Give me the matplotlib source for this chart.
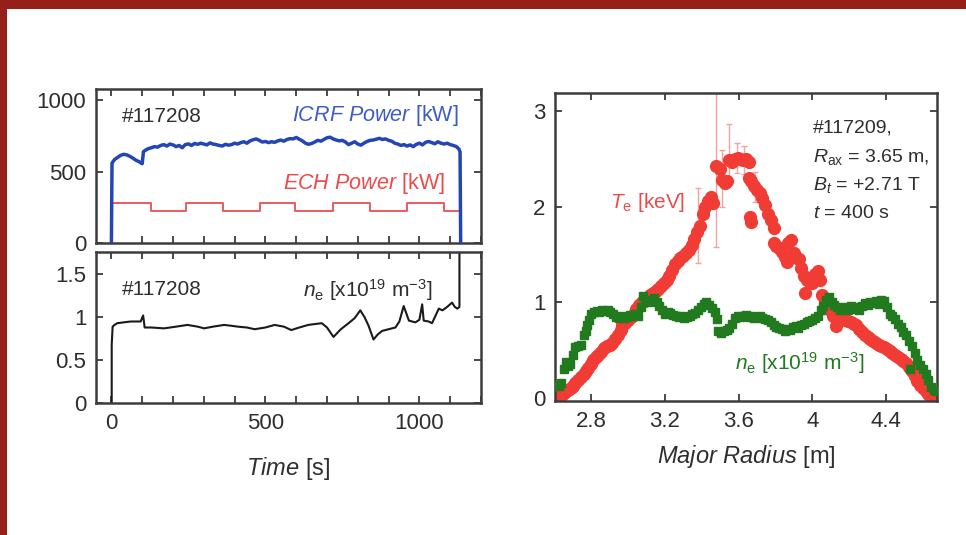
import matplotlib
matplotlib.use("Agg")
import matplotlib.pyplot as plt
from matplotlib.patches import Rectangle
from matplotlib.ticker import MultipleLocator

plt.rcParams['font.family'] = ['Liberation Sans', 'DejaVu Sans']
plt.rcParams['mathtext.fontset'] = 'custom'
plt.rcParams['mathtext.rm'] = 'Liberation Sans'
plt.rcParams['mathtext.it'] = 'Liberation Sans:italic'
plt.rcParams['mathtext.bf'] = 'Liberation Sans:bold'

# ---------------- data: left panels (time traces, shot #117208) ----------------
icrf_t = [0, 2, 10, 20, 30, 40, 50, 60, 70, 80, 90, 100, 104, 110, 120, 130, 140, 150,
          160, 170, 180, 190, 200, 210, 220, 230, 240, 250, 260, 270, 280, 290, 300,
          310, 320, 330, 340, 350, 360, 370, 380, 390, 400, 410, 420, 430, 440, 450,
          460, 470, 480, 490, 500, 510, 520, 530, 540, 550, 560, 570, 580, 590, 600,
          610, 620, 630, 640, 650, 660, 670, 680, 690, 700, 710, 720, 730, 740, 750,
          760, 770, 780, 790, 800, 810, 820, 830, 840, 850, 860, 870, 880, 890, 900,
          910, 920, 930, 940, 950, 960, 970, 980, 990, 1000, 1010, 1020, 1030, 1040,
          1050, 1060, 1070, 1080, 1090, 1100, 1110, 1120, 1128, 1132, 1134]
icrf_p = [0, 560, 585, 600, 615, 622, 618, 608, 595, 580, 570, 556, 640, 650, 662, 668,
          676, 672, 684, 690, 680, 694, 688, 676, 684, 668, 690, 695, 684, 698, 692, 700,
          694, 688, 702, 694, 690, 684, 680, 692, 686, 690, 700, 694, 704, 710, 700, 716,
          724, 730, 720, 708, 712, 704, 710, 706, 716, 722, 714, 726, 732, 730, 740, 728,
          716, 700, 692, 698, 708, 720, 714, 726, 738, 742, 730, 722, 716, 720, 708, 690,
          700, 710, 694, 686, 700, 712, 720, 722, 728, 734, 726, 730, 720, 714, 700, 694,
          684, 690, 680, 688, 676, 692, 700, 688, 706, 712, 704, 696, 710, 700, 694, 700,
          690, 684, 676, 660, 640, 0]

ech_t = [0, 0, 129, 243, 363, 482, 596, 721, 840, 960, 1079, 1134, 1134]
ech_p = [0, 284, 225, 284, 225, 284, 225, 284, 225, 284, 225, 0, 0]

ne_t = [1, 1, 4, 10, 19, 40, 63, 95, 103, 108, 130, 171, 210, 247, 280, 301, 330, 366,
        390, 410, 440, 465, 500, 530, 560, 584, 610, 639, 660, 683, 700, 721, 745, 770,
        790, 808, 822, 835, 851, 865, 879, 900, 922, 935, 949, 966, 987, 1000, 1009,
        1014, 1030, 1041, 1063, 1075, 1090, 1106, 1115, 1123, 1130, 1130]
ne_v = [0, 0.68, 0.89, 0.91, 0.93, 0.94, 0.95, 0.95, 1.02, 0.88, 0.88, 0.87, 0.89, 0.91,
        0.89, 0.87, 0.89, 0.91, 0.90, 0.89, 0.88, 0.86, 0.88, 0.91, 0.89, 0.85, 0.88, 0.91,
        0.92, 0.93, 0.88, 0.77, 0.86, 0.93, 0.99, 1.08, 1.00, 0.90, 0.74, 0.80, 0.84, 0.86,
        0.88, 0.95, 1.13, 0.96, 0.94, 0.97, 1.15, 0.96, 0.95, 0.93, 1.10, 1.08, 1.12, 1.17,
        1.12, 1.10, 1.12, 1.76]

power_ticks = [0, 500, 1000]
ne_ticks = [0, 0.5, 1, 1.5]
ne_ticklabels = ['0', '0.5', '1', '1.5']
time_ticks = [0, 500, 1000]

# ---------------- data: right panel (profiles, shot #117209) ----------------
te_r = [2.62, 2.63, 2.645, 2.66, 2.675, 2.69, 2.70, 2.715, 2.73, 2.745, 2.76, 2.77, 2.785,
        2.80, 2.81, 2.825, 2.84, 2.855, 2.87, 2.885, 2.90, 2.915, 2.93, 2.945, 2.96, 2.97,
        2.985, 3.00, 3.015, 3.03, 3.045, 3.06, 3.075, 3.09, 3.105, 3.12, 3.135, 3.15, 3.165,
        3.18, 3.195, 3.21, 3.225, 3.24, 3.255, 3.27, 3.285, 3.30, 3.315, 3.33, 3.345, 3.36,
        3.375, 3.39, 3.405, 3.42, 3.435, 3.45, 3.46, 3.48, 3.50, 3.51, 3.525, 3.54, 3.55,
        3.565, 3.58, 3.595, 3.61, 3.625, 3.64, 3.655, 3.655, 3.67, 3.685, 3.70, 3.715, 3.73,
        3.745, 3.76, 3.66, 3.67, 3.775, 3.79, 3.79, 3.805, 3.82, 3.835, 3.85, 3.865, 3.87,
        3.885, 3.90, 3.915, 3.93, 3.94, 3.955, 3.97, 3.985, 4.00, 4.015, 4.03, 4.04, 3.96,
        4.055, 4.07, 4.085, 4.10, 4.115, 4.13, 4.135, 4.15, 4.165, 4.18, 4.195, 4.21, 4.225,
        4.24, 4.255, 4.27, 4.285, 4.30, 4.315, 4.33, 4.345, 4.36, 4.375, 4.39, 4.405, 4.42,
        4.435, 4.45, 4.465, 4.48, 4.495, 4.51, 4.525, 4.54, 4.555, 4.57, 4.585, 4.60, 4.615,
        4.63, 4.645, 4.66]
te_v = [0.00, 0.02, 0.04, 0.06, 0.09, 0.11, 0.13, 0.16, 0.19, 0.22, 0.25, 0.28, 0.32,
        0.36, 0.40, 0.43, 0.45, 0.48, 0.52, 0.54, 0.56, 0.58, 0.62, 0.66, 0.71, 0.76,
        0.79, 0.82, 0.85, 0.88, 0.93, 0.97, 1.00, 1.02, 1.05, 1.08, 1.10, 1.12, 1.14,
        1.17, 1.20, 1.23, 1.28, 1.34, 1.40, 1.43, 1.46, 1.49, 1.52, 1.55, 1.60, 1.66,
        1.74, 1.80, 1.92, 2.00, 2.06, 2.10, 2.04, 2.43, 2.40, 2.28, 2.25, 2.27, 2.49,
        2.47, 2.50, 2.51, 2.50, 2.49, 2.50, 2.47, 2.30, 2.27, 2.22, 2.18, 2.14, 2.09,
        2.02, 1.93, 1.89, 1.84, 1.86, 1.78, 1.62, 1.59, 1.57, 1.53, 1.48, 1.42, 1.62,
        1.65, 1.52, 1.47, 1.45, 1.36, 1.28, 1.24, 1.22, 1.20, 1.30, 1.33, 1.24, 1.10,
        1.08, 1.02, 0.96, 0.91, 0.86, 0.75, 0.82, 0.84, 0.83, 0.82, 0.81, 0.80, 0.78,
        0.76, 0.72, 0.69, 0.66, 0.64, 0.62, 0.60, 0.58, 0.56, 0.54, 0.53, 0.51, 0.49,
        0.47, 0.45, 0.43, 0.41, 0.39, 0.37, 0.33, 0.28, 0.23, 0.18, 0.14, 0.11, 0.07,
        0.04, 0.02, 0.01]

# error bars on selected Te points near the peak
te_err_r = [3.38, 3.48, 3.51, 3.55, 3.59, 3.63, 3.69]
te_err_v = [1.80, 2.43, 2.28, 2.49, 2.50, 2.49, 2.20]
te_err_lo = [0.39, 0.85, 0.28, 0.20, 0.15, 0.15, 0.15]
te_err_hi = [0.40, 1.00, 0.31, 0.38, 0.17, 0.15, 0.16]

ne_r = [2.625, 2.635, 2.655, 2.665, 2.675, 2.685, 2.70, 2.715, 2.73, 2.745, 2.76, 2.77,
        2.78, 2.79, 2.80, 2.815, 2.83, 2.845, 2.86, 2.875, 2.89, 2.905, 2.92, 2.935, 2.95,
        2.965, 2.98, 2.995, 3.01, 3.025, 3.04, 3.055, 3.07, 3.08, 3.095, 3.11, 3.125, 3.14,
        3.155, 3.17, 3.185, 3.20, 3.215, 3.23, 3.245, 3.26, 3.275, 3.29, 3.305, 3.32, 3.335,
        3.35, 3.365, 3.38, 3.395, 3.41, 3.425, 3.44, 3.455, 3.47, 3.485, 3.49, 3.505, 3.52,
        3.535, 3.55, 3.565, 3.58, 3.595, 3.61, 3.625, 3.64, 3.655, 3.67, 3.685, 3.70, 3.715,
        3.73, 3.745, 3.76, 3.775, 3.79, 3.805, 3.82, 3.835, 3.85, 3.865, 3.88, 3.895, 3.91,
        3.925, 3.94, 3.955, 3.97, 3.985, 4.00, 4.015, 4.03, 4.045, 4.06, 4.075, 4.09, 4.105,
        4.12, 4.135, 4.15, 4.165, 4.18, 4.195, 4.21, 4.225, 4.24, 4.255, 4.27, 4.285, 4.30,
        4.315, 4.33, 4.345, 4.36, 4.375, 4.39, 4.405, 4.42, 4.435, 4.45, 4.465, 4.48, 4.495,
        4.51, 4.525, 4.53, 4.54, 4.555, 4.57, 4.585, 4.60, 4.615, 4.63, 4.645, 4.66, 4.67]
ne_p = [0.13, 0.16, 0.30, 0.38, 0.34, 0.36, 0.45, 0.53, 0.55, 0.56, 0.66, 0.70, 0.76,
        0.82, 0.88, 0.90, 0.91, 0.90, 0.92, 0.91, 0.92, 0.90, 0.88, 0.85, 0.84, 0.86, 0.84,
        0.85, 0.87, 0.86, 0.88, 0.86, 0.95, 1.07, 1.03, 1.00, 1.02, 1.05, 1.01, 0.96, 0.92,
        0.88, 0.90, 0.89, 0.87, 0.86, 0.85, 0.86, 0.84, 0.85, 0.86, 0.88, 0.89, 0.92, 0.95,
        0.98, 1.00, 0.97, 0.94, 0.90, 0.83, 0.70, 0.68, 0.70, 0.71, 0.73, 0.78, 0.84, 0.86,
        0.85, 0.86, 0.87, 0.85, 0.86, 0.84, 0.85, 0.86, 0.84, 0.83, 0.82, 0.80, 0.76, 0.74,
        0.73, 0.72, 0.70, 0.72, 0.71, 0.74, 0.75, 0.73, 0.76, 0.78, 0.80, 0.81, 0.82, 0.84,
        0.86, 0.92, 0.96, 1.03, 1.06, 1.00, 0.97, 0.95, 0.92, 0.93, 0.95, 0.92, 0.96, 0.93,
        0.95, 0.92, 0.96, 0.99, 0.97, 1.01, 0.99, 1.02, 0.98, 1.03, 1.02, 0.95, 0.88, 0.86,
        0.83, 0.78, 0.74, 0.69, 0.66, 0.60, 0.30, 0.54, 0.47, 0.40, 0.35, 0.30, 0.25, 0.19,
        0.12, 0.08, 0.07]

r_ticks = [2.8, 3.2, 3.6, 4.0, 4.4]
r_ticklabels = ['2.8', '3.2', '3.6', '4', '4.4']
prof_ticks = [0, 1, 2, 3]

# ---------------- styles ----------------
FRAME = '#3c3c3c'
TXT = '#2e2e2e'
BLUE = '#2445b5'
BLUE_T = '#3d5dc4'
RED_L = '#ef5a5a'
RED_T = '#ef4a4a'
RED_PT = '#f03c34'
GREEN = '#217a1d'
ERRC = '#f2a2a2'

fig = plt.figure(figsize=(9.66, 5.35), dpi=100)
fig.patch.set_facecolor('white')

# slide border
fig.add_artist(Rectangle((0, 1 - 9 / 535), 1, 9 / 535, transform=fig.transFigure,
                         facecolor='#952019', edgecolor='none'))
fig.add_artist(Rectangle((0, 0), 7 / 966, 1, transform=fig.transFigure,
                         facecolor='#952019', edgecolor='none'))

ax1 = fig.add_axes([96 / 966, 1 - 243 / 535, 385 / 966, 154 / 535])
ax2 = fig.add_axes([96 / 966, 1 - 403 / 535, 385 / 966, 151 / 535])
ax3 = fig.add_axes([555 / 966, 1 - 401 / 535, 382 / 966, 308 / 535])


def style(ax):
    for s in ax.spines.values():
        s.set_color(FRAME)
        s.set_linewidth(1.8)
    ax.tick_params(which='both', direction='in', top=True, right=True, color=FRAME,
                   labelcolor=TXT, labelsize=16, pad=7)
    ax.tick_params(which='major', length=5, width=1.3)
    ax.tick_params(which='minor', length=5, width=1.3)


# --- top-left: powers ---
ax1.plot(icrf_t, icrf_p, color=BLUE, lw=2.5, zorder=3)
ax1.plot(ech_t, ech_p, color=RED_L, lw=1.4, drawstyle='steps-post', zorder=2)
ax1.set_xlim(-50, 1200)
ax1.set_ylim(0, 1080)
ax1.set_yticks(power_ticks)
ax1.set_xticks(time_ticks)
ax1.xaxis.set_minor_locator(MultipleLocator(100))
style(ax1)
ax1.tick_params(labelbottom=False)
ax1.text(0.068, 0.82, '#117208', transform=ax1.transAxes, fontsize=15, color=TXT,
         va='center', ha='left')
ax1.text(0.943, 0.83, r'$\mathit{ICRF\ Power}$ [kW]', transform=ax1.transAxes,
         fontsize=15.5, color=BLUE_T, va='center', ha='right')
ax1.text(0.905, 0.385, r'$\mathit{ECH\ Power}$ [kW]', transform=ax1.transAxes,
         fontsize=15.5, color=RED_T, va='center', ha='right')

# --- bottom-left: density ---
ax2.plot(ne_t, ne_v, color='#1a1a1a', lw=1.5)
ax2.set_xlim(-50, 1200)
ax2.set_ylim(0, 1.76)
ax2.set_yticks(ne_ticks)
ax2.set_yticklabels(ne_ticklabels)
ax2.set_xticks(time_ticks)
ax2.xaxis.set_minor_locator(MultipleLocator(100))
style(ax2)
ax2.text(0.068, 0.75, '#117208', transform=ax2.transAxes, fontsize=15, color=TXT,
         va='center', ha='left')
ax2.text(0.873, 0.75, r'$n_\mathrm{e}$ [x10$^{19}$ m$^{-3}$]', transform=ax2.transAxes,
         fontsize=15, color=TXT, va='center', ha='right')
ax2.set_xlabel(r'$\mathit{Time}$ [s]', fontsize=17, color=TXT, labelpad=15)

# --- right: profiles ---
ax3.errorbar(te_err_r, te_err_v, yerr=[te_err_lo, te_err_hi], fmt='none', ecolor=ERRC,
             elinewidth=1.0, capsize=2.5, capthick=1.0, zorder=1)
ax3.plot(te_r, te_v, 'o', color=RED_PT, ms=8.5, mec=RED_PT, zorder=2)
ax3.plot(ne_r, ne_p, 's', color=GREEN, ms=6, mec=GREEN, zorder=3)
ax3.set_xlim(2.604, 4.677)
ax3.set_ylim(-0.03, 3.19)
ax3.set_xticks(r_ticks)
ax3.set_xticklabels(r_ticklabels)
ax3.set_yticks(prof_ticks)
style(ax3)
ax3.set_xlabel(r'$\mathit{Major\ Radius}$ [m]', fontsize=17, color=TXT, labelpad=8)
ax3.text(2.90, 2.04, r'$T_\mathrm{e}$ [keV]', fontsize=15, color=RED_T, va='center',
         ha='left')
ax3.text(3.58, 0.37, r'$n_\mathrm{e}$ [x10$^{19}$ m$^{-3}$]', fontsize=15, color=GREEN,
         va='center', ha='left')
ann = ['#117209,', r'$R_\mathrm{ax}$ = 3.65 m,', r'$B_t$ = +2.71 T', r'$t$ = 400 s']
for i, s in enumerate(ann):
    ax3.text(0.675, 0.885 - i * 0.092, s, transform=ax3.transAxes, fontsize=14, color=TXT,
             va='center', ha='left')

fig.savefig('out.png', dpi=100, facecolor='white')
